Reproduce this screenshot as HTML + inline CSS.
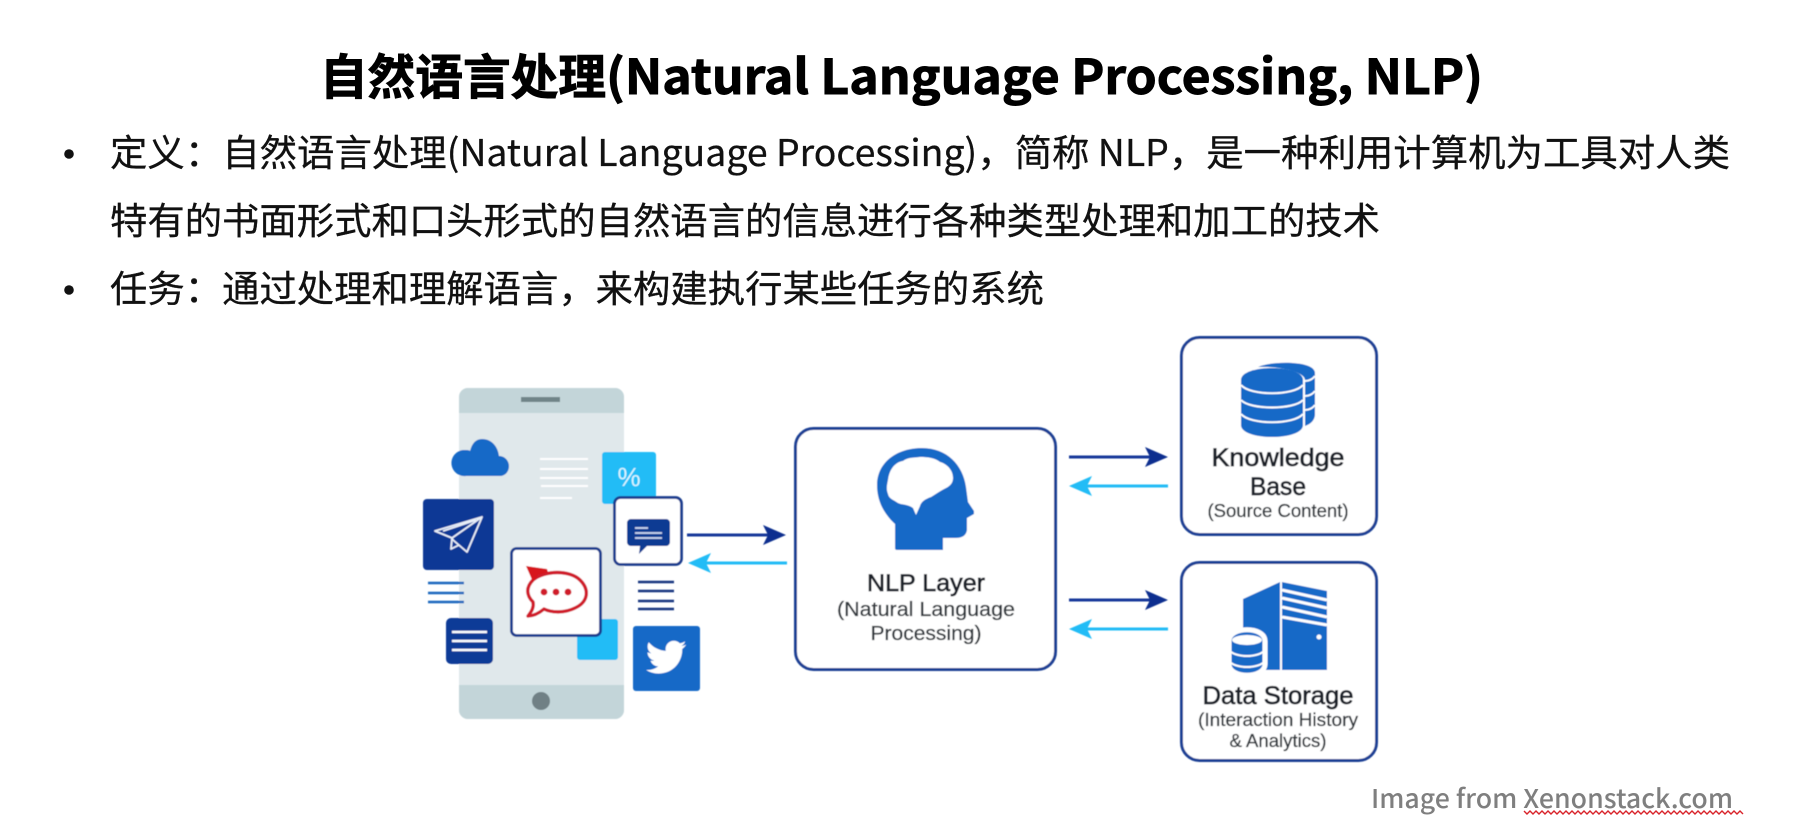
<!DOCTYPE html>
<html>
<head>
<meta charset="utf-8">
<style>
html,body{margin:0;padding:0;background:#fff;width:1802px;height:840px;overflow:hidden}
svg{display:block}
.cjk{font-family:"Noto Sans CJK SC","Liberation Sans",sans-serif}
.lat{font-family:"Liberation Sans",sans-serif;text-anchor:middle}
</style>
</head>
<body>
<svg width="1802" height="840" viewBox="0 0 1802 840" xmlns="http://www.w3.org/2000/svg">
<defs><filter id="b" x="-5%" y="-5%" width="110%" height="110%"><feGaussianBlur stdDeviation="0.6"/></filter></defs>

<g stroke="#000" stroke-width="0.9">
<text class="cjk" x="320" y="94" font-size="48" font-weight="700" fill="#000" textLength="286" lengthAdjust="spacingAndGlyphs">自然语言处理</text>
<text class="cjk" x="606" y="94" font-size="48" font-weight="700" fill="#000" textLength="877" lengthAdjust="spacingAndGlyphs">(Natural Language Processing, NLP)</text>
</g>
<circle cx="69" cy="154" r="4.800" fill="#111"/>
<g stroke="#111" stroke-width="0.3">
<text class="cjk" x="110" y="166" font-size="37" fill="#111" textLength="1620" lengthAdjust="spacingAndGlyphs">定义：自然语言处理(Natural Language Processing)，简称 NLP，是一种利用计算机为工具对人类</text>
<text class="cjk" x="110" y="234" font-size="37" fill="#111" textLength="1270" lengthAdjust="spacingAndGlyphs">特有的书面形式和口头形式的自然语言的信息进行各种类型处理和加工的技术</text>
<text class="cjk" x="110" y="302" font-size="37" fill="#111" textLength="934" lengthAdjust="spacingAndGlyphs">任务：通过处理和理解语言，来构建执行某些任务的系统</text>
</g>
<circle cx="69" cy="290" r="4.800" fill="#111"/>

<g filter="url(#b)">
<!-- phone -->
<rect x="459" y="388" width="165" height="331" rx="9" fill="#e0e8eb"/>
<path d="M459 413V397a9 9 0 0 1 9-9h147a9 9 0 0 1 9 9v16z" fill="#c3d5d9"/>
<path d="M459 685v25a9 9 0 0 0 9 9h147a9 9 0 0 0 9-9v-25z" fill="#c3d5d9"/>
<rect x="521" y="397" width="39" height="5" fill="#6f8488"/>
<circle cx="541" cy="701" r="9" fill="#6f8085"/>
<!-- cloud -->
<path d="M466 476a13 13 0 0 1-3-26c4 0 6 0 7 1 2-8 6-12 12-12 10 0 16 8 17 17 6 0 10 5 10 10 0 6-4 10-9 10z" fill="#1469c7"/>
<!-- white lines -->
<g stroke="#fff" stroke-width="2">
<path d="M540 459h48M540 469h48M540 478h48M541 486h47M540 498h32"/>
</g>
<!-- percent -->
<rect x="602" y="452" width="54" height="52" rx="3" fill="#24bcf6"/>
<text class="lat" x="629" y="486" font-size="26" fill="#d9f5ff">%</text>
<!-- paper plane -->
<rect x="423" y="499" width="71" height="71" rx="4" fill="#0a3795"/>
<g fill="none" stroke="#e8eef8" stroke-width="1.800" stroke-linejoin="round">
<path d="M482 517L435 531L452 538L482 517L467 552L453 540L452 538"/>
<path d="M452 538L451 549L459 545"/>
<path d="M443 531L476 520"/>
</g>
<!-- lines left -->
<g stroke="#1c67bd" stroke-width="2.400"><path d="M428 583h36M428 593h36M428 602h36"/></g>
<!-- menu tile -->
<rect x="446" y="618" width="47" height="46" rx="5" fill="#0d3a97"/>
<g stroke="#fff" stroke-width="2.600"><path d="M452 632h35M452 641h35M452 650h35"/></g>
<!-- light square -->
<rect x="577" y="619" width="41" height="41" rx="3" fill="#24bcf6"/>
<!-- red tile -->
<rect x="511.500" y="548.500" width="89" height="87" rx="5" fill="#fff" stroke="#1c3c8e" stroke-width="2.800"/>
<path fill="none" stroke="#d01a2a" stroke-width="3.400" stroke-linejoin="round" d="M533 580C545 570 570 570 580 580C590 590 588 602 575 608C565 613 552 613 544 609C538 614 533 616 528 616C532 611 534 607 533 602C526 595 526 587 533 580Z"/>
<path d="M526 566L547 569L548 572L538 575L533 582Z" fill="#d7141f"/>
<circle cx="544" cy="592" r="3.400" fill="#d01a2a"/><circle cx="556" cy="592" r="3.400" fill="#d01a2a"/><circle cx="568" cy="592" r="3.400" fill="#d01a2a"/>
<!-- chat tile -->
<rect x="614.500" y="497.500" width="67" height="67" rx="6" fill="#fff" stroke="#1c3c8e" stroke-width="2.800"/>
<path d="M631 519h35a4 4 0 0 1 4 4v19a4 4 0 0 1-4 4h-19l-8 8 1-8h-9a4 4 0 0 1-4-4v-19a4 4 0 0 1 4-4z" fill="#0e3b93"/>
<g stroke="#cfdcf2" stroke-width="1.800"><path d="M635 528h13M635 533h27M635 538h27"/></g>
<!-- lines right -->
<g stroke="#15357f" stroke-width="2.400"><path d="M638 582h36M638 591h36M638 601h36M638 609h36"/></g>
<!-- twitter -->
<rect x="633" y="626" width="67" height="65" rx="3" fill="#1469c7"/>
<path transform="translate(646 637) scale(1.68)" fill="#fff" d="M23.95 4.57a10 10 0 01-2.82.77 4.96 4.96 0 002.16-2.72c-.95.55-2 .95-3.12 1.18a4.92 4.92 0 00-8.38 4.48C7.69 8.1 4.07 6.13 1.64 3.16a4.82 4.82 0 00-.67 2.48c0 1.71.87 3.2 2.18 4.08a4.9 4.9 0 01-2.23-.62v.06c0 2.39 1.7 4.38 3.95 4.83a5 5 0 01-2.21.08 4.94 4.94 0 004.6 3.42A9.87 9.87 0 010 19.54a13.94 13.94 0 007.55 2.21c9.06 0 14-7.5 14-13.98 0-.21 0-.42-.01-.63a10 10 0 002.41-2.57z"/>

<!-- arrows -->
<g stroke-width="3" fill="none">
<path d="M687 535H770M1069 457H1152M1069 600H1152" stroke="#15389a"/>
<path d="M704 563H787M1086 486H1168M1086 629H1168" stroke="#24bcf6"/>
</g>
<g fill="#0d2f8f">
<path d="M786 535L763 525L768 535L763 545Z"/>
<path d="M1168 457L1145 447L1150 457L1145 467Z"/>
<path d="M1168 600L1145 590L1150 600L1145 610Z"/>
</g>
<g fill="#24bcf6">
<path d="M688 563L711 553L706 563L711 573Z"/>
<path d="M1069 486L1092 476L1087 486L1092 496Z"/>
<path d="M1069 629L1092 619L1087 629L1092 639Z"/>
</g>

<!-- boxes -->
<g fill="#fff" stroke="#1c3f94" stroke-width="3">
<rect x="795.500" y="428.500" width="260" height="241" rx="18"/>
<rect x="1181.500" y="337.500" width="195" height="197" rx="18"/>
<rect x="1181.500" y="562.500" width="195" height="198" rx="18"/>
</g>

<!-- head -->
<path fill="#1469c7" d="M897 550Q895 550 895 548L895 524C883 513 877 500 877 485C877 463 896 448 922 448C947 448 963 465 966 487L968 502L974 511L974 514L967 518L967 530C966 536 962 538 955 538L943 538L943 550Z"/>
<path fill="#fff" d="M888 480C889 470 895 462 903 461C908 457 914 458 920 457C928 457 935 458 940 462C947 464 953 470 953 478C953 483 950 486 946 488C940 491 936 494 931 497C925 499 921 502 920 506L916 515L913 508C908 504 902 505 898 503C894 500 889 499 888 494C886 489 887 485 888 480Z"/>

<!-- database -->
<g fill="#1469c7">
<path d="M1258 367C1270 361 1315 360 1315 373V414C1315 420 1311 424 1305 426V380C1305 372 1280 366 1258 367Z"/>
<path d="M1241 380C1241 364 1303 364 1303 380V425C1303 441 1241 441 1241 425Z"/>
</g>
<g fill="none" stroke="#fff" stroke-width="2">
<path d="M1241 385C1250 396 1294 396 1303 385M1241 400C1250 410 1294 410 1303 400M1241 414C1250 425 1294 425 1303 414"/>
<path d="M1305 381C1309 381 1313 379 1315 376M1305 396C1309 396 1313 394 1315 391M1305 410C1309 410 1313 408 1315 405"/>
</g>

<!-- server -->
<path fill="#1469c7" d="M1243 599L1280 582V670H1243Z"/>
<path fill="#1469c7" d="M1282 582L1327 591V670H1282Z"/>
<g stroke="#fff" stroke-width="3"><path d="M1282 590L1327 600M1282 598L1327 608M1282 607L1327 617M1282 617L1327 625"/></g>
<circle cx="1319" cy="637" r="2.500" fill="#fff"/>
<path fill="#1469c7" stroke="#fff" stroke-width="5" d="M1229 641C1229 626 1265 626 1265 641V664C1265 679 1229 679 1229 664Z"/>
<ellipse cx="1247" cy="640" rx="15" ry="5" fill="#fff"/>
<g fill="none" stroke="#fff" stroke-width="2"><path d="M1229 650C1235 658 1259 658 1265 650M1229 661C1235 669 1259 669 1265 661"/></g>

<!-- labels -->
<g style="font-family:'Liberation Sans',sans-serif;text-anchor:middle">
<g fill="#1c2029" stroke="#1c2029" stroke-width="0.7">
<text x="926" y="591" font-size="24" textLength="118" lengthAdjust="spacingAndGlyphs">NLP Layer</text>
<text x="1278" y="466" font-size="25" textLength="133" lengthAdjust="spacingAndGlyphs">Knowledge</text>
<text x="1278" y="495" font-size="25" textLength="56" lengthAdjust="spacingAndGlyphs">Base</text>
<text x="1278" y="704" font-size="25" textLength="151" lengthAdjust="spacingAndGlyphs">Data Storage</text>
</g>
<g fill="#33383d" stroke="#33383d" stroke-width="0.3">
<text x="926" y="616" font-size="20" textLength="178" lengthAdjust="spacingAndGlyphs">(Natural Language</text>
<text x="926" y="640" font-size="20" textLength="111" lengthAdjust="spacingAndGlyphs">Processing)</text>
<text x="1278" y="517" font-size="18" textLength="141" lengthAdjust="spacingAndGlyphs">(Source Content)</text>
<text x="1278" y="726" font-size="18" textLength="160" lengthAdjust="spacingAndGlyphs">(Interaction History</text>
<text x="1278" y="747" font-size="18" textLength="97" lengthAdjust="spacingAndGlyphs">&amp; Analytics)</text>
</g>
</g>
</g>

<!-- caption -->
<text class="cjk" x="1371" y="808" font-size="26" font-weight="500" fill="#7f7f7f" textLength="362" lengthAdjust="spacingAndGlyphs">Image from Xenonstack.com</text>
<path fill="none" stroke="#d8232a" stroke-width="1.400" d="M1524 811l3 3 3-3 3 3 3-3 3 3 3-3 3 3 3-3 3 3 3-3 3 3 3-3 3 3 3-3 3 3 3-3 3 3 3-3 3 3 3-3 3 3 3-3 3 3 3-3 3 3 3-3 3 3 3-3 3 3 3-3 3 3 3-3 3 3 3-3 3 3 3-3 3 3 3-3 3 3 3-3 3 3 3-3 3 3 3-3 3 3 3-3 3 3 3-3 3 3 3-3 3 3 3-3 3 3 3-3 3 3 3-3 3 3 3-3 3 3 3-3 3 3 3-3 3 3 3-3 3 3 3-3 3 3 3-3 3 3 3-3 3 3 3-3 3 3"/>
</svg>
</body>
</html>
